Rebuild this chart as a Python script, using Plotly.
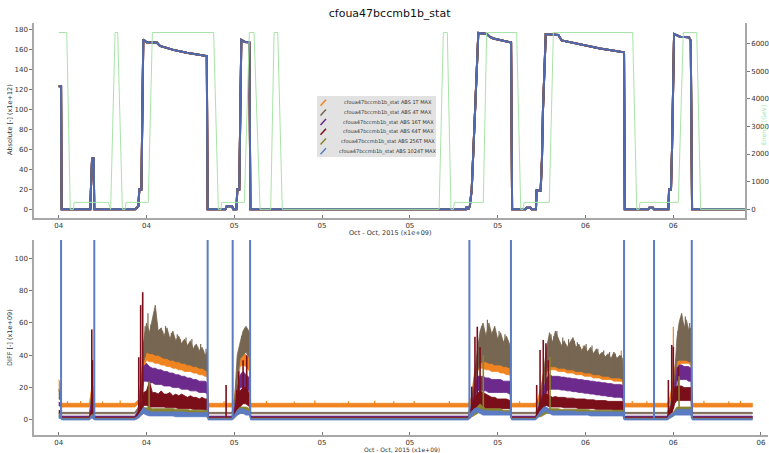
import numpy as np
import plotly.graph_objects as go

TITLE = "cfoua47bccmb1b_stat"
SERIES = ["cfoua47bccmb1b_stat ABS 1T MAX", "cfoua47bccmb1b_stat ABS 4T MAX",
          "cfoua47bccmb1b_stat ABS 16T MAX", "cfoua47bccmb1b_stat ABS 64T MAX",
          "cfoua47bccmb1b_stat ABS 256T MAX", "cfoua47bccmb1b_stat ABS 1024T MAX"]
COLORS = ["#f08420", "#776752", "#6c2a8c", "#7a0f1a", "#8a8430", "#5b7cc2"]
TOP_BLUE = "#5068b0"
GREEN = "#a8e4a8"

# x in hours from Oct 04 12:00
TICK_H = [0, 6, 12, 18, 24, 30, 36, 42, 48]
TICK_TXT = ["04", "04", "05", "05", "05", "05", "06", "06", "06"]

# ---- top panel: absolute (x1e+12) ----
ABS_T = [0.00, 0.16, 0.20, 2.16, 2.20, 2.28, 2.39, 2.43, 5.22, 5.44, 5.51, 5.65, 5.78, 6.01, 6.70, 6.92,
         7.83, 8.75, 10.12, 10.18, 11.39, 11.48, 11.85, 11.93, 12.14, 12.21, 12.34, 12.48, 12.73, 13.03,
         13.10, 27.84, 27.90, 28.00, 28.10, 28.23, 28.46, 28.68, 29.26, 29.48, 29.71, 30.17, 30.92, 30.99,
         31.90, 31.98, 32.25, 32.33, 32.62, 32.66, 32.94, 33.03, 33.10, 33.29, 34.15, 34.38, 35.63, 37.00,
         38.64, 38.69, 40.30, 40.36, 40.62, 40.68, 41.67, 41.72, 41.85, 41.92, 42.06, 42.47, 43.08, 43.20,
         43.29, 46.91]
ABS_V = [123.5, 123.5, 0, 0, 20, 51, 51, 0, 0, 3, 20, 20, 170.5, 167.7, 167.4, 164,
         160, 157.2, 153.9, 0, 0, 3, 3, 0, 0, 20, 20, 170, 168, 167.6,
         0, 0, 3, 0, 3, 20, 100, 177, 176, 173, 171.5, 170, 167.5, 0,
         0, 1.5, 1.5, 0, 0, 19, 19, 50, 100, 176, 175, 169.5, 165.5, 161.5,
         157.6, 0, 0, 1.5, 1.5, 0, 0, 20, 20, 60, 176, 173.3, 172.6, 169.3,
         0, 0]

# ---- top panel: energy (GeV) ----
EN_T = [0.00, 0.55, 0.79, 1.00, 1.05, 3.39, 3.55, 3.85, 4.03, 4.35, 4.53, 4.60, 6.12, 6.40, 10.59, 10.91,
        11.09, 11.14, 12.69, 13.03, 13.35, 13.76, 14.49, 14.72, 14.97, 15.28, 26.00, 26.29, 26.56, 26.81,
        26.98, 27.04, 29.02, 29.25, 31.30, 31.58, 31.74, 31.80, 33.53, 33.81, 39.23, 39.51, 39.67, 39.73,
        42.35, 42.69, 43.61, 43.88, 46.91]
EN_V = [6400, 6400, 0, 0, 250, 250, 0, 6400, 6400, 0, 0, 250, 250, 6400, 6400, 0,
        0, 250, 250, 6400, 6400, 0, 0, 6400, 6400, 0, 0, 6400, 6400, 0,
        0, 250, 250, 6400, 6400, 0, 0, 250, 250, 6400, 6400, 0, 0, 250,
        250, 6400, 6400, 0, 0]

# ---- bottom panel: DIFF (x1e+09), noise band envelopes per series ----
DIFF_T = [0.00, 0.14, 0.20, 1.20, 2.10, 2.22, 2.36, 2.44, 3.80, 5.20,
          5.45, 5.65, 5.80, 6.00, 6.20, 6.40, 6.60, 6.80, 7.00, 7.20,
          7.40, 7.60, 7.80, 8.00, 8.20, 8.40, 8.60, 8.80, 9.00, 9.20,
          9.40, 9.60, 9.80, 10.00, 10.15, 10.22, 11.00, 11.85, 12.00, 12.20,
          12.40, 12.60, 12.80, 13.05, 13.12, 15.50, 18.00, 20.50, 23.00, 25.50,
          28.00, 28.20, 28.40, 28.60, 28.80, 29.00, 29.20, 29.40, 29.60, 29.80,
          30.00, 30.20, 30.40, 30.60, 30.85, 30.95, 32.00, 32.60, 32.75, 32.95,
          33.15, 33.35, 33.55, 33.75, 33.95, 34.15, 34.35, 34.55, 34.75, 34.95,
          35.15, 35.35, 35.55, 35.75, 35.95, 36.15, 36.35, 36.55, 36.75, 36.95,
          37.15, 37.35, 37.55, 37.75, 37.95, 38.15, 38.35, 38.55, 38.66, 39.60,
          40.60, 41.60, 41.75, 41.95, 42.10, 42.25, 42.40, 42.58, 42.75, 42.90,
          43.05, 43.22, 43.30, 45.00, 47.41]

O_LO = [18, 16, 8.0, 8.0, 8.0, 12, 14, 8.0, 8.0, 8.0,
        10, 18, 32, 37, 36, 36, 35, 35, 34, 34,
        33, 33, 32, 32, 31, 31, 30, 30, 30, 29,
        29, 28, 28, 27, 27, 8.0, 8.0, 8.0, 10, 20,
        33, 34, 33, 30, 8.0, 8.0, 8.0, 8.0, 8.0, 8.0,
        8.0, 10, 20, 30, 32, 32, 31, 31, 30, 30,
        30, 29, 29, 28, 28, 8.0, 8.0, 8.0, 10, 14,
        22, 30, 31, 31, 31, 30, 30, 30, 29, 29,
        29, 28, 28, 28, 27, 27, 27, 26, 26, 26,
        25, 25, 25, 25, 24, 24, 24, 24, 8.0, 8.0,
        8.0, 8.0, 10, 16, 24, 33, 34, 35, 35, 35,
        35, 34, 8.0, 8.0, 8.0]
O_HI = [25, 22, 10.3, 10.3, 10.3, 18, 21, 10.3, 10.3, 10.3,
        12.5, 26, 42, 44, 44, 43, 43, 42, 42, 41,
        41, 40, 40, 39, 39, 38, 38, 37, 37, 36,
        36, 35, 35, 34, 34, 10.3, 10.3, 10.3, 13, 30,
        40, 42, 40, 38, 10.3, 10.3, 10.3, 10.3, 10.3, 10.3,
        10.3, 14, 28, 38, 38, 40, 38, 37, 37, 36,
        36, 35, 35, 34, 34, 10.3, 10.3, 10.3, 13, 20,
        30, 36, 37, 37, 37, 36, 36, 36, 35, 35,
        35, 34, 34, 34, 33, 33, 33, 32, 32, 32,
        31, 31, 31, 31, 30, 30, 30, 30, 10.3, 10.3,
        10.3, 10.3, 13, 22, 32, 39, 40, 41, 41, 41,
        41, 40, 10.3, 10.3, 10.3]
BR_LO = [13, 12, 3.8, 3.8, 3.8, 8, 10, 3.8, 3.8, 3.8,
         6, 15, 36, 42, 41, 41, 40, 40, 39, 38,
         38, 37, 37, 36, 36, 35, 35, 34, 34, 33,
         33, 32, 32, 31, 30, 3.8, 3.8, 3.8, 6, 25,
         38, 40, 42, 38, 3.8, 3.8, 3.8, 3.8, 3.8, 3.8,
         3.8, 6, 18, 30, 35, 36, 36, 35, 35, 34,
         34, 34, 33, 33, 32, 3.8, 3.8, 3.8, 6, 10,
         20, 32, 33, 33, 33, 32, 32, 32, 31, 31,
         31, 30, 30, 30, 29, 29, 29, 28, 28, 28,
         27, 27, 27, 26, 26, 26, 26, 25, 3.8, 3.8,
         3.8, 3.8, 6, 10, 18, 36, 37, 37, 37, 37,
         36, 36, 3.8, 3.8, 3.8]
BR_HI = [19, 17, 4.7, 4.7, 4.7, 14, 17, 4.7, 4.7, 4.7,
         8, 22, 48, 60, 54, 63, 71, 55, 57, 52,
         57, 50, 55, 49, 52, 47, 50, 46, 49, 44,
         47, 43, 45, 40, 42, 4.7, 4.7, 4.7, 9, 40,
         48, 55, 58, 54, 4.7, 4.7, 4.7, 4.7, 4.7, 4.7,
         4.7, 10, 28, 42, 55, 60, 52, 60, 53, 58,
         50, 54, 48, 52, 46, 4.7, 4.7, 4.7, 8, 16,
         30, 45, 54, 48, 55, 50, 46, 49, 45, 48,
         51, 45, 47, 43, 46, 42, 45, 41, 44, 40,
         42, 39, 41, 38, 42, 38, 40, 38, 4.7, 4.7,
         4.7, 4.7, 8, 15, 28, 50, 60, 66, 57, 62,
         56, 57, 4.7, 4.7, 4.7]
P_LO = [9, 8, 1.6, 1.6, 1.6, 6, 8, 1.6, 1.6, 1.6,
        4, 10, 24, 24, 23, 23, 22, 22, 22, 21,
        21, 21, 20, 20, 20, 19, 19, 19, 18, 18,
        18, 17, 17, 17, 16, 1.6, 1.6, 1.6, 4, 12,
        20, 20, 18, 18, 1.6, 1.6, 1.6, 1.6, 1.6, 1.6,
        1.6, 5, 12, 18, 18, 18, 18, 17, 17, 17,
        17, 17, 17, 17, 16, 1.6, 1.6, 1.6, 4, 8,
        14, 18, 19, 19, 19, 19, 18.5, 18.5, 18, 18,
        17.5, 17.5, 17, 17, 16.5, 16.5, 16, 16, 15.5, 15.5,
        15, 15, 14.5, 14.5, 14, 14, 14, 13.5, 1.6, 1.6,
        1.6, 1.6, 4, 6, 14, 24, 25, 25, 25, 25,
        24, 24, 1.6, 1.6, 1.6]
P_HI = [11, 10.5, 2.4, 2.4, 2.4, 10, 12, 2.4, 2.4, 2.4,
        6, 15, 33, 35, 33, 32, 32, 31, 31, 30,
        30, 29, 29, 28, 28, 27, 27, 26, 26, 25,
        25, 24, 24, 24, 23, 2.4, 2.4, 2.4, 6, 20,
        28, 30, 28, 26, 2.4, 2.4, 2.4, 2.4, 2.4, 2.4,
        2.4, 8, 20, 27, 27, 27, 26, 26, 25, 25,
        25, 25, 24, 24, 24, 2.4, 2.4, 2.4, 6, 12,
        20, 26, 28, 27, 27, 27, 26.5, 26.5, 26, 26,
        25.5, 25.5, 25, 25, 24.5, 24.5, 24, 24, 23.5, 23.5,
        23, 23, 22.5, 22.5, 22, 22, 22, 21.5, 2.4, 2.4,
        2.4, 2.4, 6, 10, 22, 32, 34, 34, 33, 33,
        33, 32, 2.4, 2.4, 2.4]
R_LO = [4, 3.5, 1.0, 1.0, 1.0, 3, 4, 1.0, 1.0, 1.0,
        2.5, 5, 9, 9, 8, 8, 8, 8, 8, 8,
        7.5, 7.5, 7.5, 7.5, 7, 7, 7, 7, 7, 6.5,
        6.5, 6.5, 6.5, 6, 6, 1.0, 1.0, 1.0, 2, 6,
        8, 10, 10, 8, 1.0, 1.0, 1.0, 1.0, 1.0, 1.0,
        1.0, 3, 6, 8, 8, 7, 7, 7, 7, 7,
        7, 7, 7, 7, 7, 1.0, 1.0, 1.0, 3, 5,
        8, 9, 8, 8, 8, 8, 8, 7.5, 7.5, 7.5,
        7.5, 7.5, 7, 7, 7, 7, 7, 7, 6.5, 6.5,
        6.5, 6.5, 6.5, 6.5, 6, 6, 6, 6, 1.0, 1.0,
        1.0, 1.0, 3, 5, 10, 12, 12, 12, 12, 12,
        12, 12, 1.0, 1.0, 1.0]
R_HI = [6, 5.5, 1.6, 1.6, 1.6, 6, 8, 1.6, 1.6, 1.6,
        5, 9, 17, 18, 24, 17, 17, 16, 18, 16,
        16, 17, 15, 16, 15, 16, 15, 14, 15, 14,
        14, 13, 14, 13, 13, 1.6, 1.6, 1.6, 4, 16,
        18, 20, 20, 16, 1.6, 1.6, 1.6, 1.6, 1.6, 1.6,
        1.6, 8, 14, 16, 18, 17, 16, 15, 14, 14,
        13, 13, 13, 13, 12, 1.6, 1.6, 1.6, 6, 12,
        16, 16, 15, 14, 14.5, 14, 14, 14, 13.5, 13.5,
        13.5, 13, 13, 13, 13, 12.5, 12.5, 12.5, 12, 12,
        12, 12, 11.5, 11.5, 11.5, 11.5, 11.5, 11.5, 1.6, 1.6,
        1.6, 1.6, 6, 12, 20, 21, 21, 21, 20, 20,
        20, 20, 1.6, 1.6, 1.6]
OL_LO = [2, 2, 0.6, 0.6, 0.6, 1.5, 2, 0.6, 0.6, 0.6,
         1.5, 3, 4, 4, 4, 4, 4, 4, 4, 4,
         4, 4, 4, 4, 4, 4, 4, 4, 3.5, 3.5,
         3.5, 3.5, 3.5, 3.5, 3.5, 0.6, 0.6, 0.6, 1, 3,
         4, 4, 4, 4, 0.6, 0.6, 0.6, 0.6, 0.6, 0.6,
         0.6, 2, 3, 4, 5, 4, 4, 4, 4, 4,
         4, 4, 4, 4, 4, 0.6, 0.6, 0.6, 2, 2,
         3, 4, 4, 4, 4, 4, 4, 4, 4, 4,
         4, 4, 4, 4, 4, 4, 4, 4, 4, 4,
         4, 4, 4, 4, 4, 4, 4, 4, 0.6, 0.6,
         0.6, 0.6, 2, 2, 3, 4, 4, 4, 4, 4,
         4, 4, 0.6, 0.6, 0.6]
OL_HI = [4, 3.5, 1.1, 1.1, 1.1, 3, 3.5, 1.1, 1.1, 1.1,
         2.5, 5, 7.5, 7.5, 8, 7, 7, 7, 7, 7,
         7, 7, 7, 6.5, 6.5, 6.5, 6.5, 6.5, 6, 6,
         6, 6, 6, 6, 6, 1.1, 1.1, 1.1, 2, 6,
         8, 8, 8, 7, 1.1, 1.1, 1.1, 1.1, 1.1, 1.1,
         1.1, 4, 6, 8, 10, 8, 7, 7, 7, 7,
         7, 7, 6, 6, 6, 1.1, 1.1, 1.1, 3, 4,
         6, 7, 7, 7, 7, 7, 6.5, 6.5, 6.5, 6.5,
         6.5, 6.5, 6.5, 6.5, 6.5, 6.5, 6, 6, 6, 6,
         6, 6, 6, 6, 6, 6, 6, 6, 1.1, 1.1,
         1.1, 1.1, 3, 4, 6, 8, 8, 8, 8, 8,
         8, 8, 1.1, 1.1, 1.1]
BL_LO = [1, 1, 0, 0, 0, 1, 1, 0, 0, 0,
         1, 3, 4, 3, 2.5, 2.5, 2.5, 2.5, 2.5, 2.5,
         2.5, 2.5, 2.5, 2, 2, 2, 2, 2, 2, 2,
         2, 2, 2, 2, 2, 0, 0, 0, 1, 3,
         4, 4, 3, 3, 0, 0, 0, 0, 0, 0,
         0, 2, 4, 5, 4, 3, 3, 3, 3, 3,
         3, 3, 3, 3, 3, 0, 0, 0, 1, 3,
         5, 5, 4, 3, 3, 3, 3, 3, 3, 3,
         3, 3, 3, 3, 3, 3, 2.5, 2.5, 2.5, 2.5,
         2.5, 2.5, 2.5, 2.5, 2.5, 2.5, 2.5, 2.5, 0, 0,
         0, 0, 1, 2, 3, 3, 3, 3, 3, 3,
         3, 3, 0, 0, 0]
BL_HI = [3, 2.5, 0.7, 0.7, 0.7, 2.5, 3, 0.7, 0.7, 0.7,
         3, 6, 8, 6, 5.5, 5, 5, 5, 5, 5,
         5, 5, 5, 5, 5, 5, 5, 4.5, 4.5, 4.5,
         4.5, 4.5, 4.5, 4.5, 4.5, 0.7, 0.7, 0.7, 3, 6,
         7, 7, 6, 5, 0.7, 0.7, 0.7, 0.7, 0.7, 0.7,
         0.7, 5, 7, 7.5, 6.5, 6, 6, 5.5, 5.5, 5.5,
         5.5, 5.5, 5, 5, 5, 0.7, 0.7, 0.7, 3, 6,
         8, 8, 6, 5.5, 5.5, 5.5, 5.5, 5.5, 5.5, 5.5,
         5.5, 5, 5, 5, 5, 5, 5, 5, 5, 5,
         5, 5, 5, 5, 5, 5, 5, 5, 0.7, 0.7,
         0.7, 0.7, 3, 4, 5, 6.5, 6.5, 6.5, 6.5, 6.5,
         6.5, 6.5, 0.7, 0.7, 0.7]

# isolated spikes (time, peak); each rises from its own band
OR_SPK_T = [0.6, 1.5, 3.0, 4.2, 5.90, 11.3, 14.2, 16.1, 17.5, 19.8, 21.6, 22.9, 24.3, 26.7, 31.5,
            35.86, 38.45, 39.2, 40.2, 42.01, 44.1, 45.8, 46.6]
OR_SPK_V = [11.6, 11.8, 11.4, 12.0, 54.6, 11.5, 11.8, 11.4, 12.1, 11.6, 11.9, 11.5, 11.7, 11.8, 11.6,
            46, 43, 11.7, 11.5, 57.7, 11.9, 11.6, 11.8]
BR_SPK_T = [5.90, 6.10, 6.30, 6.50, 6.70, 6.90, 7.10, 7.30, 7.50, 7.70, 7.90, 8.10, 8.30, 8.50, 8.70,
            8.90, 9.10, 9.30, 9.50, 9.70, 9.90, 10.07, 12.50, 12.70, 12.90, 28.90, 29.10, 29.30, 29.50,
            29.70, 29.90, 30.10, 30.30, 30.50, 30.70, 33.65, 33.85, 34.05, 34.25, 34.45, 34.65, 34.85,
            35.05, 35.25, 35.45, 35.65, 35.85, 36.05, 36.25, 36.45, 36.65, 36.85, 37.05, 37.25, 37.45,
            37.65, 37.85, 38.05, 38.25, 38.45, 42.33, 42.50, 42.67, 42.83, 42.98, 43.13]
BR_SPK_V = [58, 66, 59, 62, 60, 56, 55, 58, 53, 54, 51, 53, 50, 49, 51,
            47, 50, 46, 45, 47, 43, 44, 52, 57, 56, 58, 55, 62, 56,
            55, 53, 55, 50, 53, 49, 53, 52, 55, 48, 51, 47, 50,
            46, 49, 48, 45, 44, 47, 43, 46, 42, 44, 41, 43, 40,
            42, 39, 41, 39, 40, 55, 63, 60, 64, 58, 60]
R_SPK_T = [2.26, 2.31, 5.47, 5.60, 5.74, 11.44, 12.17, 12.30, 12.60, 12.85, 28.23, 28.45, 28.61, 28.80,
           32.67, 32.90, 33.12, 33.30, 33.46, 41.67, 41.90, 42.01, 42.35]
R_SPK_V = [56, 37, 38.8, 71, 79, 21.6, 18.5, 30, 37, 40, 20.6, 51.5, 57.7, 45,
           21.6, 43.3, 49.5, 47.4, 37, 24.7, 46.4, 45.3, 33]
OL_SPK_T = [6.18, 29.02, 33.58, 42.40]
OL_SPK_V = [24, 40, 39, 27]
BL_SPK_T = [0.16, 2.43, 10.18, 11.89, 13.08, 28.07, 30.91, 38.64, 40.69, 43.27]
BL_SPK_V = [300, 300, 300, 300, 300, 300, 300, 300, 300, 300]

BANDS = [(O_LO, O_HI), (BR_LO, BR_HI), (P_LO, P_HI), (R_LO, R_HI), (OL_LO, OL_HI), (BL_LO, BL_HI)]
SPIKES = [(OR_SPK_T, OR_SPK_V), (BR_SPK_T, BR_SPK_V), None, (R_SPK_T, R_SPK_V),
          (OL_SPK_T, OL_SPK_V), (BL_SPK_T, BL_SPK_V)]

FONT = "DejaVu Sans"
W, H = 769, 453
ML, MR, MT, MB = 34, 1, 23, 18
PW, PH = W - ML - MR, H - MT - MB


def px_x(x):
    return (x - ML) / PW


def px_y(y):
    return (H - MB - y) / PH


fig = go.Figure()

# energy on secondary axis (behind)
fig.add_trace(go.Scatter(x=EN_T, y=EN_V, mode="lines", line=dict(color=GREEN, width=1),
                         xaxis="x", yaxis="y2", showlegend=False, hoverinfo="skip"))
# absolute curves, all series overlap; last is on top
for i, name in enumerate(SERIES):
    col = TOP_BLUE if i == len(SERIES) - 1 else COLORS[i]
    fig.add_trace(go.Scatter(x=ABS_T, y=ABS_V, mode="lines", name=name,
                             line=dict(color=col, width=2), legendgroup=name,
                             xaxis="x", yaxis="y"))

# DIFF bands + spikes
for i, name in enumerate(SERIES):
    lo, hi = BANDS[i]
    px = list(DIFF_T) + list(DIFF_T)[::-1]
    py = list(hi) + list(lo)[::-1]
    fig.add_trace(go.Scatter(x=px, y=py, mode="lines", fill="toself", fillcolor=COLORS[i],
                             line=dict(color=COLORS[i], width=0.8), legendgroup=name,
                             showlegend=False, xaxis="x2", yaxis="y3", hoverinfo="skip"))
    sp = SPIKES[i]
    if sp is not None:
        base = np.interp(sp[0], DIFF_T, lo)
        sx, sy = [], []
        for t, v, b in zip(sp[0], sp[1], base):
            sx += [t, t, None]
            sy += [float(b), v, None]
        wid = 2 if i == 5 else (1.2 if i in (0, 1) else 1.6)
        fig.add_trace(go.Scatter(x=sx, y=sy, mode="lines", line=dict(color=COLORS[i], width=wid),
                                 legendgroup=name, showlegend=False, xaxis="x2", yaxis="y3",
                                 hoverinfo="skip"))

AX = dict(showgrid=False, zeroline=False, showline=True, linecolor="#a8a8a8", linewidth=1.5,
          tickfont=dict(size=7, color="#333333", family=FONT), tickcolor="#777777", ticklen=3)

fig.update_layout(
    width=W, height=H, margin=dict(l=ML, r=MR, t=MT, b=MB),
    paper_bgcolor="white", plot_bgcolor="white",
    font=dict(family=FONT, color="#333333"),
    title=dict(text=TITLE, x=0.4845, xref="paper", xanchor="center", y=1 - 13 / H, yref="container",
               yanchor="middle", font=dict(size=11, color="#111111", family=FONT)),
    xaxis=dict(domain=[0, 0.9687], range=[-1.69, 46.91], anchor="y", tickvals=TICK_H, ticktext=TICK_TXT,
               ticks="inside", **AX),
    yaxis=dict(domain=[0.5267, 1], range=[-8.7, 187], dtick=20, ticks="outside", anchor="x", **AX),
    yaxis2=dict(overlaying="y", side="right", anchor="x", range=[-315, 6743], dtick=1000, ticks="outside",
                **AX),
    xaxis2=dict(domain=[0, 1], range=[-1.69, 48.48], anchor="y3", tickvals=TICK_H, ticktext=TICK_TXT,
                ticks="inside", **AX),
    yaxis3=dict(domain=[0, 0.4733], range=[-9.3, 111.3], dtick=20, ticks="outside", anchor="x2", **AX),
    showlegend=False,
)

# legend drawn as a box with diagonal line icons (as in the reference)
LEG_X0, LEG_X1, LEG_Y0, LEG_Y1 = 317, 436, 96, 157
LEG_ROW0, LEG_ROWSTEP, LEG_TXT_X = 102.7, 9.7, 388
shapes = [dict(type="rect", xref="paper", yref="paper", x0=px_x(LEG_X0), x1=px_x(LEG_X1),
               y0=px_y(LEG_Y1), y1=px_y(LEG_Y0), fillcolor="#e2e2e2", line=dict(width=0), layer="above")]
ann = []
for i, name in enumerate(SERIES):
    ry = LEG_ROW0 + i * LEG_ROWSTEP
    shapes.append(dict(type="line", xref="paper", yref="paper", x0=px_x(320.5), y0=px_y(ry + 3),
                       x1=px_x(326), y1=px_y(ry - 3), line=dict(color=COLORS[i], width=1.5), layer="above"))
    ann.append(dict(text=name, x=px_x(LEG_TXT_X), y=px_y(ry), font=dict(size=5, color="#333333")))

ann += [
    dict(text="Absolute [-] (x1e+12)", x=px_x(10), y=px_y(120), textangle=-90, font=dict(size=6.5)),
    dict(text="DIFF [-] (x1e+09)", x=px_x(10), y=px_y(338), textangle=-90, font=dict(size=6.5)),
    dict(text="Energy [GeV]", x=px_x(764), y=px_y(125), textangle=-90, font=dict(size=6, color=GREEN)),
    dict(text="Oct - Oct, 2015 (x1e+09)", x=px_x(389.5), y=px_y(233), font=dict(size=6.5)),
    dict(text="Oct - Oct, 2015 (x1e+09)", x=px_x(401.5), y=px_y(449.5), font=dict(size=6)),
]
for a in ann:
    a.update(xref="paper", yref="paper", showarrow=False, xanchor="center", yanchor="middle")
    a["font"].setdefault("color", "#333333")
    a["font"]["family"] = FONT
fig.update_layout(annotations=ann, shapes=shapes)

fig.write_html("out.html")
